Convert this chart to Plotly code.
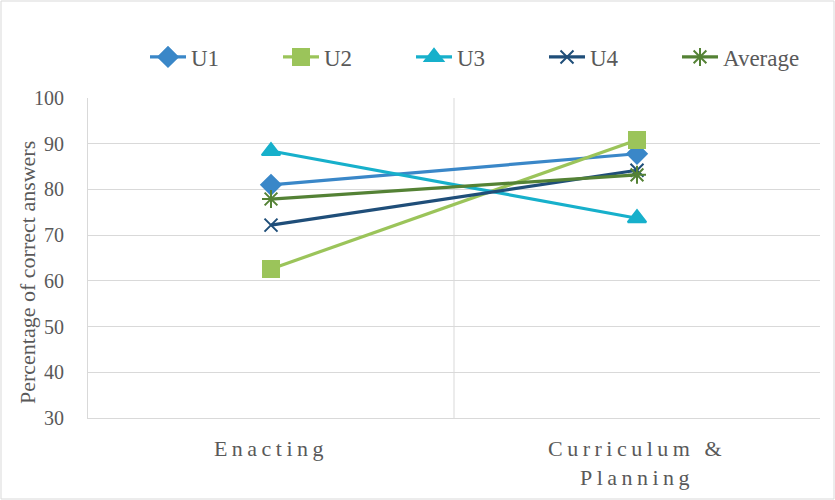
import plotly.graph_objects as go

categories = ["Enacting", "Curriculum &<br>Planning"]
series_names = ["U1", "U2", "U3", "U4", "Average"]
u1 = [81.0, 87.8]
u2 = [62.6, 90.8]
u3 = [88.4, 73.7]
u4 = [72.2, 84.2]
average = [77.9, 83.2]
y_ticks = [30, 40, 50, 60, 70, 80, 90, 100]
y_title = "Percentage of correct answers"

values = [u1, u2, u3, u4, average]
colors = ["#3A87C8", "#9BC45A", "#17B0CB", "#1F4E79", "#548235"]
symbols = ["diamond", "square", "triangle-up", "x-thin-open", "asterisk-open"]
sizes = [15, 16, 16, 13, 15]

fig = go.Figure()
for name, vals, c, s, sz in zip(series_names, values, colors, symbols, sizes):
    fig.add_trace(go.Scatter(
        x=categories, y=vals, name=name, mode="lines+markers",
        line=dict(color=c, width=3.2),
        marker=dict(symbol=s, size=sz, color=c, line=dict(color=c, width=2)),
    ))

W, H = 835, 500
ml, mr, mt, mb = 88, 15, 98, 82
pw, ph = W - ml - mr, H - mt - mb

def px_x(p):
    return (p - ml) / pw

def px_y(p):
    return (H - mb - p) / ph

serif = "Liberation Serif, DejaVu Serif, serif"
grey = "#595959"

fig.update_layout(
    width=W, height=H,
    margin=dict(l=ml, r=mr, t=mt, b=mb, autoexpand=False),
    paper_bgcolor="white", plot_bgcolor="white",
    font=dict(family=serif, color=grey, size=20),
    showlegend=True,
    legend=dict(orientation="h", x=px_x(145), xanchor="left", y=px_y(57), yanchor="middle",
                font=dict(size=23, color=grey), entrywidth=82, entrywidthmode="pixels",
                itemwidth=36, bgcolor="rgba(0,0,0,0)"),
    xaxis=dict(type="category", range=[-0.5, 1.5], showgrid=False, zeroline=False,
               showline=True, linecolor="#D9D9D9", linewidth=1, automargin=False,
               tickfont=dict(size=22, color=grey), ticks="", ticklabelstandoff=11),
    yaxis=dict(range=[30, 100], tickvals=y_ticks, showgrid=True, gridcolor="#D9D9D9",
               gridwidth=1, zeroline=False, showline=True, linecolor="#D9D9D9",
               automargin=False,
               tickfont=dict(size=20, color=grey), ticks="", ticklabelstandoff=19),
    annotations=[
        dict(text=y_title, textangle=-90, xref="paper", yref="paper",
             x=px_x(27), y=px_y(273), xanchor="center", yanchor="middle",
             showarrow=False, font=dict(size=22, color=grey, family=serif)),
    ],
    shapes=[
        dict(type="line", xref="x", yref="paper", x0=0.5, x1=0.5, y0=0, y1=1,
             line=dict(color="#D9D9D9", width=1), layer="below"),
        dict(type="rect", xref="paper", yref="paper", x0=px_x(1), x1=px_x(834),
             y0=px_y(499), y1=px_y(1), line=dict(color="#D9D9D9", width=1), layer="below"),
    ],
)

post = """
var gd = document.getElementById('{plot_id}');
gd.querySelectorAll('.xtick text').forEach(function(t){ t.style.letterSpacing = '4.5px'; });
"""

fig.write_html("out.html", post_script=post)
